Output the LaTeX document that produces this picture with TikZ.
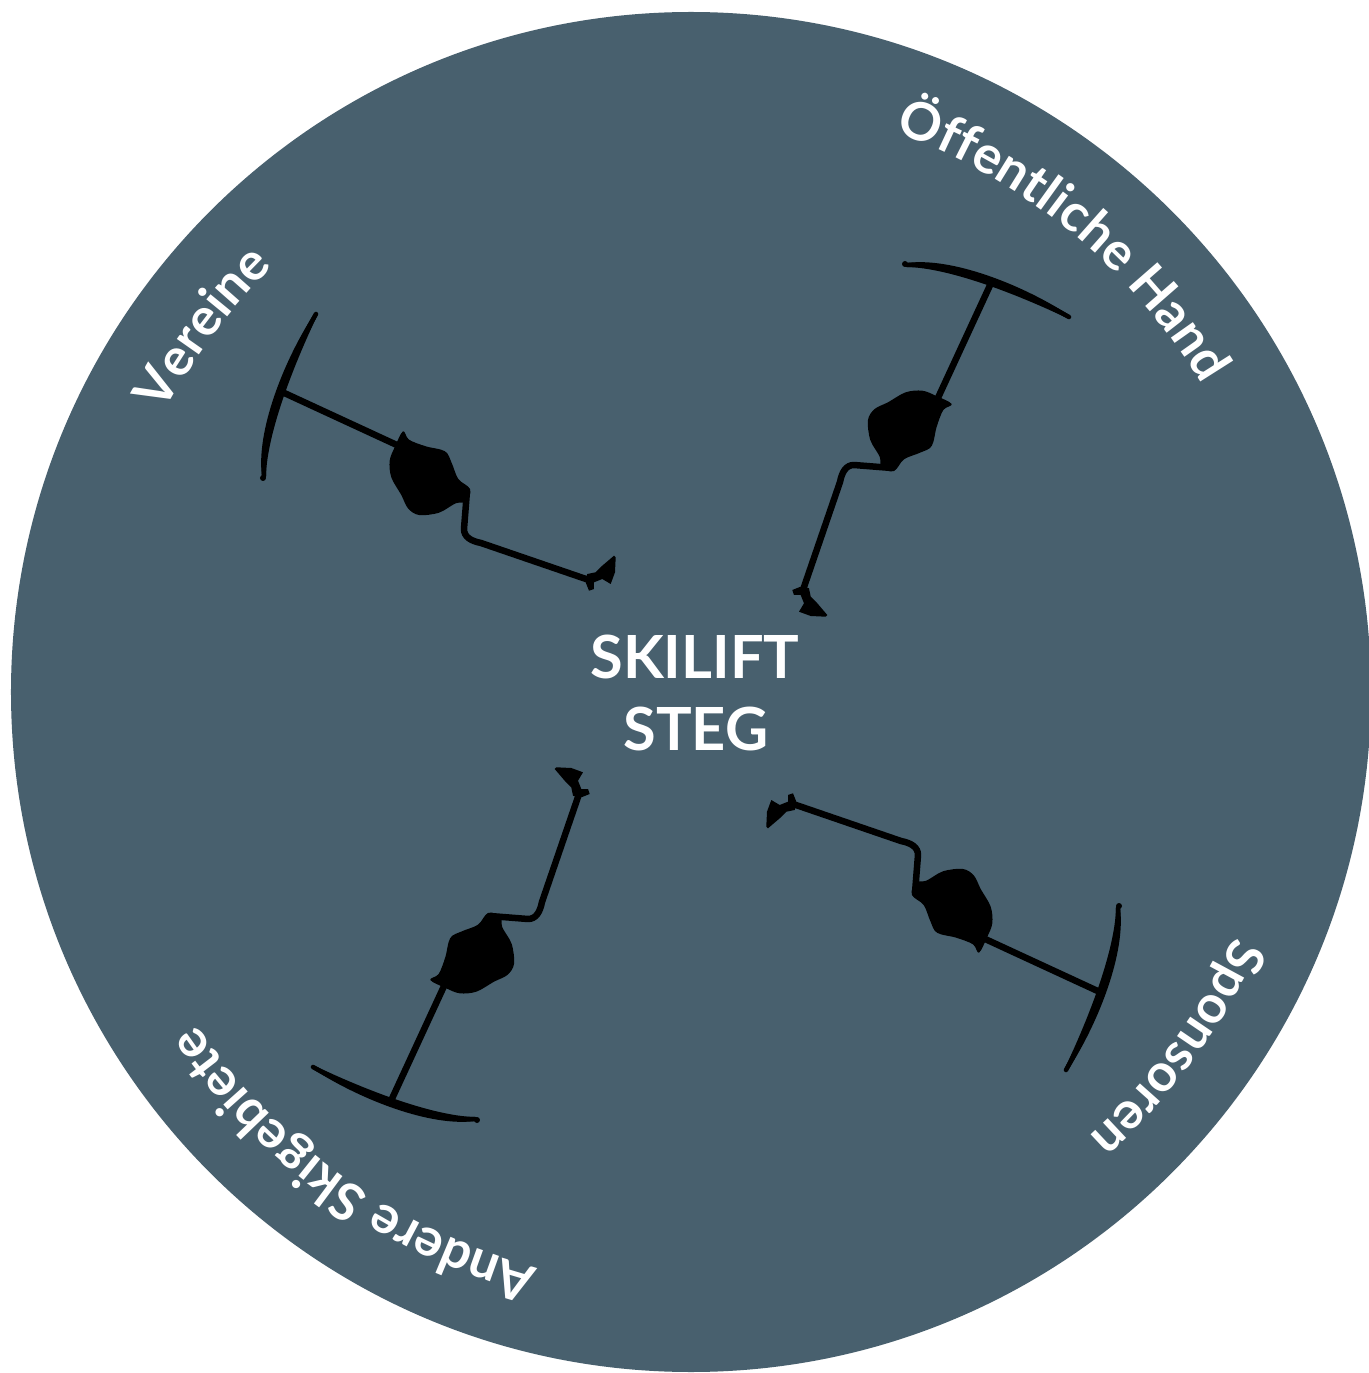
\documentclass[tikz,border=0pt]{standalone}
\usepackage{fontspec}
\setmainfont{Lato}
\usetikzlibrary{decorations.text}

\definecolor{discblue}{RGB}{72,96,110}
\newcommand\ringfont{\fontsize{52.5}{56}\selectfont\bfseries}
\newcommand\hubfont{\fontsize{59.5}{62}\selectfont\bfseries}
\newcommand\ringradius{596}

\tikzset{
  tbar/.style={line width=4.5, line cap=round, black},
  tpole/.style={line width=6.5, line cap=round, line join=round, black},
  % one T-bar hanger, drawn in the upper right quadrant of the disc
  hanger/.pic={
    % curved cross bar, thicker in the middle
    \fill[black] (216,429) .. controls (260,435) and (330,408) .. (378,377)
      -- (378,373) .. controls (330,396) and (260,424) .. (216,425) -- cycle;
    \draw[tbar] (216,427) .. controls (260,430) and (330,402) .. (378,375);
    \fill[black] (214,428) circle[radius=3];
    \draw[tpole] (301,411) -- (246,292);
    \fill[black] plot[smooth cycle, tension=0.55] coordinates {
      (244.7,296.3) (260.7,288) (252.3,282) (245.7,265.3) (240.7,246)
      (229,239.3) (213,232.7) (203,221) (190.3,224.3) (188.7,235.3)
      (179.3,252) (177,272) (183.7,283) (197,289.7) (214.7,299.7) (231.3,301.3)};
    \draw[tpole] (201,224) -- (163,227) .. controls (155,227) and (151,220) .. (149,210) -- (113,105);
    \fill[black] (101.3,102) -- (111.3,106) -- (118,103.7) -- (119.7,95.3)
      -- (126.3,88.7) -- (136.3,77) -- (134.7,75.3) -- (119.7,76) -- (108,80.3)
      -- (113,88.7) -- (109.7,97) -- (103,97) -- cycle;
  },
  ringtext/.style={decorate, decoration={text along path, text align=center,
    text color=white, text={|\ringfont|#1}}}
}

\begin{document}
\begin{tikzpicture}[x=1pt, y=1pt]
  \useasboundingbox (-691,-681) rectangle (677,692);
  \fill[white] (-691,-681) rectangle (677,692);
  \fill[discblue] (0,0) circle[radius=680];

  % four hangers turned towards the hub
  \foreach \a in {0,90,180,270}
    \pic[rotate=\a] {hanger};

  % hub title
  \node[text=white, anchor=base, inner sep=0] (hubtop) at (4,13) {\hubfont SKILIFT};
  \node[text=white, anchor=base, inner sep=0] (hubbottom) at (5,-58) {\hubfont STEG};

  % labels running clockwise round the rim
  \path[ringtext={Öffentliche Hand}]
    (50.5+70:\ringradius) arc[start angle=50.5+70, end angle=50.5-70, radius=\ringradius];
  \path[ringtext={Vereine}]
    (143.3+70:\ringradius) arc[start angle=143.3+70, end angle=143.3-70, radius=\ringradius];
  \path[ringtext={Sponsoren}]
    (-36.2+70:\ringradius) arc[start angle=-36.2+70, end angle=-36.2-70, radius=\ringradius];
  \path[ringtext={Andere Skigebiete}]
    (-125.5+70:\ringradius) arc[start angle=-125.5+70, end angle=-125.5-70, radius=\ringradius];
\end{tikzpicture}
\end{document}
